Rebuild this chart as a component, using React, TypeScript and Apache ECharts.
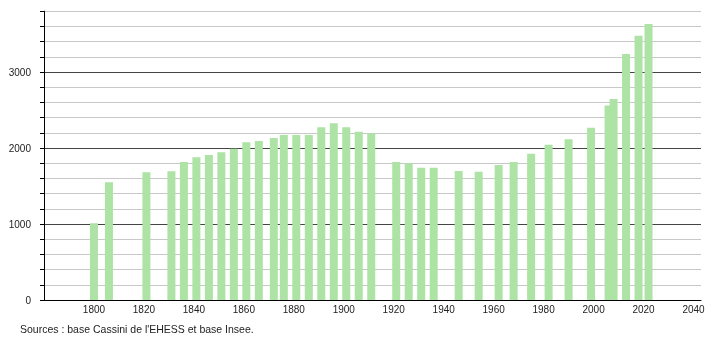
import React, { useEffect, useRef } from "react";
import * as echarts from "echarts";

const years = [
  1800, 1806, 1821, 1831, 1836, 1841, 1846, 1851, 1856, 1861, 1866, 1872, 1876,
  1881, 1886, 1891, 1896, 1901, 1906, 1911, 1921, 1926, 1931, 1936, 1946, 1954,
  1962, 1968, 1975, 1982, 1990, 1999, 2006, 2008, 2013, 2018, 2022,
];
const population = [
  1010, 1550, 1680, 1695, 1816, 1877, 1908, 1943, 1991, 2075, 2092, 2132, 2171,
  2171, 2171, 2274, 2325, 2274, 2215, 2193, 1816, 1798, 1741, 1741, 1697, 1689,
  1776, 1816, 1925, 2044, 2114, 2268, 2560, 2645, 3237, 3478, 3630,
];
const yTickLabels = ["0", "1000", "2000", "3000"];
const sourceText = "Sources : base Cassini de l'EHESS et base Insee.";

export default function App() {
  const ref = useRef<HTMLDivElement>(null);
  useEffect(() => {
    if (!ref.current) return;
    const chart = echarts.init(ref.current, undefined, { renderer: "svg" });
    const font = "'Liberation Sans', Arial, sans-serif";
    chart.setOption({
      animation: false,
      textStyle: { fontFamily: font },
      grid: { left: 44, right: 9, top: 11.2, bottom: 40, containLabel: false },
      xAxis: {
        type: "value",
        min: 1780,
        max: 2043,
        interval: 20,
        axisLine: { show: true, lineStyle: { color: "#000", width: 1 } },
        axisTick: { show: false },
        splitLine: { show: false },
        axisLabel: {
          color: "#222",
          fontSize: 10,
          fontFamily: font,
          margin: 4,
          showMinLabel: false,
          showMaxLabel: false,
          formatter: (v: number) => (v % 20 === 0 && v > 1780 ? String(v) : ""),
        },
      },
      yAxis: {
        type: "value",
        min: 0,
        max: 3800,
        interval: 200,
        axisLine: { show: true, lineStyle: { color: "#000", width: 1 } },
        axisTick: { show: true, length: 4, lineStyle: { color: "#000" } },
        axisLabel: {
          color: "#222",
          fontSize: 10,
          fontFamily: font,
          margin: 13,
          formatter: (v: number) => {
            const s = String(v);
            return yTickLabels.includes(s) ? s : "";
          },
        },
        splitLine: {
          show: true,
          lineStyle: {
            color: ["#444", "#c8c8c8", "#c8c8c8", "#c8c8c8", "#c8c8c8"],
            width: 1,
          },
        },
      },
      series: [
        {
          type: "bar",
          barWidth: 8,
          data: years.map((y, i) => [y, population[i]]),
          itemStyle: { color: "#ade3a4" },
        },
      ],
      graphic: [
        {
          type: "text",
          left: 20,
          top: 323,
          style: { text: sourceText, fill: "#222", font: `10.5px ${font}` },
        },
      ],
    });
    return () => chart.dispose();
  }, []);
  return <div ref={ref} style={{ width: 710, height: 340, position: "fixed", left: 0, top: 0 }} />;
}
